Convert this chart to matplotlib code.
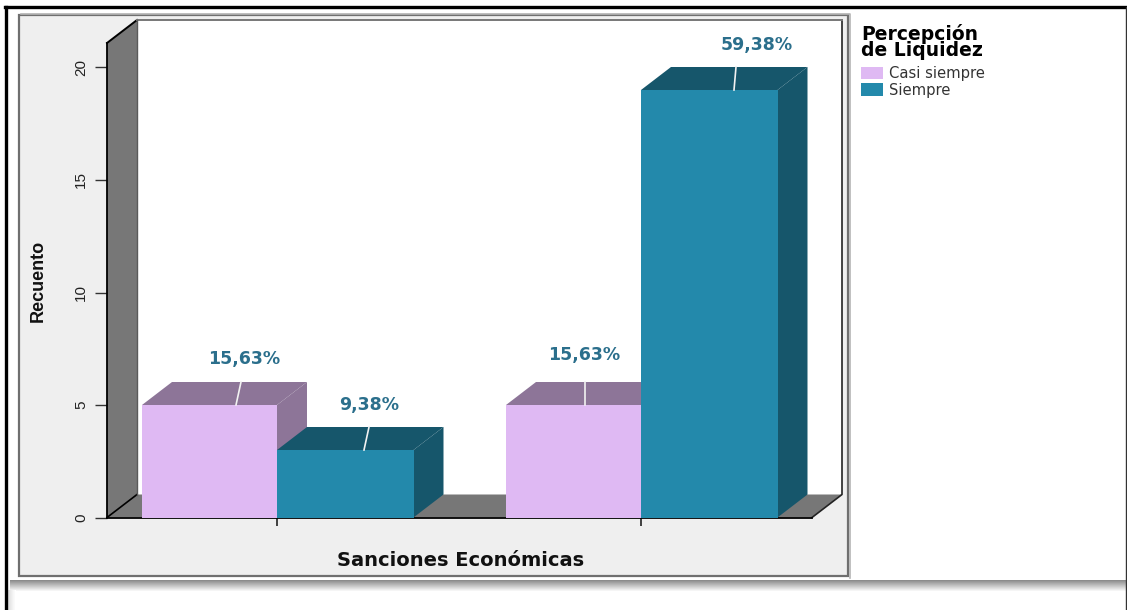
import matplotlib
matplotlib.use("Agg")
import matplotlib.pyplot as plt
from matplotlib.font_manager import FontProperties
from matplotlib.patches import Polygon, Rectangle, Patch
import numpy as np

# ---- data ----
categories = ["Sin etiqueta A", "Sin etiqueta B"]
series_names = ["Casi siempre", "Siempre"]
casi_siempre = [5, 5]
siempre = [3, 19]
pct_casi = ["15,63%", "15,63%"]
pct_siempre = ["9,38%", "59,38%"]
y_ticks = [0, 5, 10, 15, 20]

# ---- style / layout ----
W, H = 1127, 610
PINK, PINK_DK = "#dfb9f3", "#8d7598"
TEAL, TEAL_DK = "#2389ab", "#16566b"
WALL = "#777777"
PANEL = "#efefef"
LABEL_C = "#2b6f8c"
AX_L, AX_R, AX_T, AX_B = 107, 812, 43, 517.5
DX_PX, DY_PX = 30, 23

fig = plt.figure(figsize=(W / 100, H / 100), dpi=100, facecolor="white")

# page chrome, in pixel coordinates
bg = fig.add_axes([0, 0, 1, 1], zorder=0)
bg.set_xlim(0, W); bg.set_ylim(H, 0); bg.axis("off")
bg.add_patch(Rectangle((19, 15), 829, 561, fc=PANEL, ec="#6f6f6f", lw=1.6))
bg.plot([21, 850, 850], [13.5, 13.5, 578], color="#b5b5b5", lw=1.2)
shade = np.linspace(0.55, 1, 12).reshape(-1, 1)
bg.imshow(shade, extent=(10, W, 592, 580), cmap="gray", vmin=0, vmax=1, aspect="auto", zorder=1)
bg.imshow(np.linspace(0.88, 1, 6).reshape(1, -1), extent=(8, 16, H, 590), cmap="gray",
          vmin=0, vmax=1, aspect="auto", zorder=1)
bg.set_xlim(0, W); bg.set_ylim(H, 0)
bg.plot([6, 6], [H, 7], color="black", lw=2.4, zorder=3)
bg.plot([5, W], [7, 7], color="black", lw=2.4, zorder=3)
bg.plot([W - 0.8, W - 0.8], [7, H], color="#333333", lw=1, zorder=3)

# main chart axes
ax = fig.add_axes([AX_L / W, 1 - AX_B / H, (AX_R - AX_L) / W, (AX_B - AX_T) / H], zorder=2)
ax.patch.set_alpha(0)
px_x = 364.0                       # pixels per category step
px_y = 22.5                        # pixels per count
ax.set_xlim(-(277 - AX_L) / px_x, (AX_R - 277) / px_x)
ax.set_ylim(0, (AX_B - AX_T) / px_y)
dx, dy = DX_PX / px_x, DY_PX / px_y
x0, x1 = ax.get_xlim()
y1 = ax.get_ylim()[1]
bw_pink = 135 / px_x
bw_teal = 136.5 / px_x

def poly(pts, fc, ec="none", lw=0, z=2):
    ax.add_patch(Polygon(pts, closed=True, fc=fc, ec=ec, lw=lw, zorder=z, clip_on=False))

# back wall and floor
poly([(x0 + dx, dy), (x1 + dx, dy), (x1 + dx, y1 + dy), (x0 + dx, y1 + dy)], "white", z=1)
poly([(x0, 0), (x0 + dx, dy), (x0 + dx, y1 + dy), (x0, y1)], WALL, z=1.2)
poly([(x0, 0), (x1, 0), (x1 + dx, dy), (x0 + dx, dy)], WALL, z=1.2)
ax.plot([x0, x0 + dx], [y1, y1 + dy], color="black", lw=1.4, zorder=1.5, clip_on=False)
ax.plot([x0, x0 + dx], [0, dy], color="black", lw=1.2, zorder=1.5, clip_on=False)
ax.plot([x1, x1 + dx, x1 + dx], [0, dy, y1 + dy], color="#222222", lw=1.2, zorder=1.5, clip_on=False)
ax.plot([x0 + dx, x1 + dx], [y1 + dy, y1 + dy], color="#777777", lw=1.4, zorder=1.5, clip_on=False)
ax.plot([x0 + dx, x0 + dx], [dy, y1 + dy], color="#5a5a5a", lw=1, zorder=1.5, clip_on=False)

def bar3d(left, h, bw, front, dark, z):
    r = left + bw
    poly([(r, 0), (r + dx, dy), (r + dx, h + dy), (r, h)], dark, z=z)
    poly([(left, h), (r, h), (r + dx, h + dy), (left + dx, h + dy)], dark, z=z)
    ax.bar(left, h, width=bw, align="edge", color=front, zorder=z + 0.1, clip_on=False)

xpos = np.arange(len(categories))
z = 3
for i in xpos:
    bar3d(i - bw_pink, casi_siempre[i], bw_pink, PINK, PINK_DK, z)
    bar3d(i, siempre[i], bw_teal, TEAL, TEAL_DK, z + 1)
    z += 2

# percentage labels with their white leader lines (px offsets from the bar's top-left)
def label(left, h, txt, lead_dx, text_off, z):
    xa = left + lead_dx / px_x
    ax.plot([xa, xa + (text_off[2]) / px_x], [h, h + dy], color="#f2f2f2", lw=1.2,
            zorder=z + 0.5, clip_on=False)
    ax.annotate(txt, (left, h), xytext=(text_off[0] * 0.72, text_off[1] * 0.72),
                textcoords="offset points", ha="center", va="center", color=LABEL_C,
                fontsize=12.5, fontweight="bold", family="DejaVu Sans", zorder=20,
                annotation_clip=False)

label(0 - bw_pink, casi_siempre[0], pct_casi[0], 94, (102, 46, 5), 3)
label(0, siempre[0], pct_siempre[0], 87, (92, 45, 5), 4)
label(1 - bw_pink, casi_siempre[1], pct_casi[1], 79, (78, 50, 0), 5)
label(1, siempre[1], pct_siempre[1], 93, (116, 45, 2), 6)

# axes furniture
for s in ("top", "right"):
    ax.spines[s].set_visible(False)
ax.spines["left"].set_linewidth(1.3)
ax.spines["bottom"].set_linewidth(1.3)
ax.spines["left"].set_zorder(1.6)
ax.spines["bottom"].set_zorder(1.6)
ax.set_yticks(y_ticks)
ax.set_yticklabels([str(v) for v in y_ticks], rotation=90, va="center",
                   family="Liberation Sans", fontsize=11, color="#222222")
ax.tick_params(axis="y", length=8.5, width=1, color="#333333", pad=5)
ax.set_xticks(xpos)
ax.set_xticklabels([])
ax.tick_params(axis="x", length=5.5, width=1.2, color="#222222")
fig.text(460.5 / W, 1 - 560 / H, "Sanciones Económicas", ha="center", va="center",
         family="DejaVu Sans", fontweight="bold", fontsize=14, color="#111111")
fig.text(38 / W, 1 - 281 / H, "Recuento", ha="center", va="center", rotation=90,
         family="Liberation Sans", fontweight="bold", fontsize=13, color="#111111")

# legend
handles = [Patch(fc=PINK, ec="none", label=series_names[0]), Patch(fc=TEAL, ec="none", label=series_names[1])]
leg = fig.legend(handles=handles, title="Percepción\nde Liquidez", loc="upper left",
                 bbox_to_anchor=(854 / W, 1 - 17 / H), frameon=False, alignment="left",
                 prop={"family": "DejaVu Sans", "size": 10.6},
                 handlelength=1.45, handleheight=0.95, handletextpad=0.4, labelspacing=0.12,
                 borderaxespad=0, borderpad=0.5)
leg.get_title().set_fontproperties(FontProperties(family="DejaVu Sans", weight="bold", size=13.5))
leg.get_title().set_linespacing(0.8)
leg._legend_box.sep = 4
for t in leg.get_texts():
    t.set_color("#333333")

fig.savefig("out.png", dpi=100)
